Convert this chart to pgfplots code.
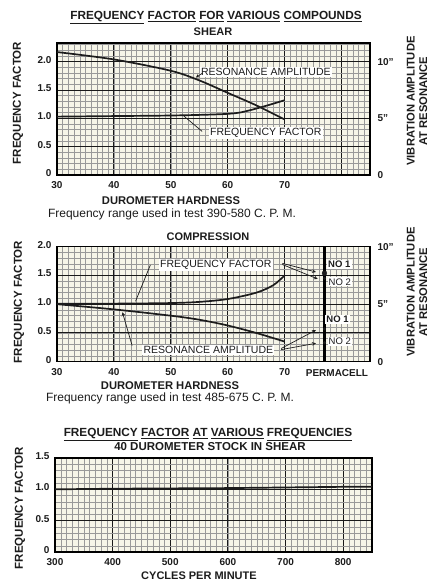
\documentclass[border=0pt]{standalone}
\usepackage{pgfplots}
\pgfplotsset{compat=1.18}
\usepackage{fontspec}
\setmainfont{Liberation Sans}
\definecolor{paper}{RGB}{246,245,232}
\definecolor{ink}{RGB}{28,28,28}

\pgfplotsset{
 chart/.style={
  scale only axis, anchor=south west,
  axis background/.style={fill=paper},
  grid=both,
  minor grid style={draw=black!40, line width=0.45pt},
  major grid style={draw=black!90, line width=1.0pt},
  axis line style={draw=black, line width=1.4pt},
  major tick length=0pt, minor tick length=0pt,
  tick label style={font=\bfseries\fontsize{10}{10}\selectfont, text=ink},
  xticklabel style={yshift=-3pt},
  yticklabel style={xshift=-2pt, yshift=2pt},
  /pgf/number format/assume math mode=true,
  clip=false,
 },
 curve/.style={draw=ink, line width=1.7pt, no markers},
}
\tikzset{
 lab/.style={font=\fontsize{10.5}{10.5}\selectfont, fill=white, inner sep=1.2pt, text=ink},
 rlab/.style={anchor=west, font=\bfseries\fontsize{10}{10}\selectfont, text=ink, xshift=4pt},
 lead/.style={draw=ink, line width=0.7pt},
}

\begin{document}
\begin{tikzpicture}[x=1pt,y=1pt]
\useasboundingbox (0,0) rectangle (438,584);

% ---------------- top chart: shear ----------------
\begin{axis}[chart, at={(57pt,409pt)}, width=313pt, height=132pt,
  xmin=30, xmax=85, ymin=0, ymax=2.33,
  xtick={30,40,50,60,70,80}, xticklabels={30,40,50,60,70,},
  ytick={0,0.5,1,1.5,2}, yticklabels={0,0.5,1.0,1.5,2.0},
  minor xtick={30,31,...,85}, minor ytick={0,0.1,...,2.35}]
\addplot[curve, smooth, tension=0.5] coordinates {(30,2.17)(40,2.04)(50,1.84)(55,1.67)(60,1.45)(65,1.23)(70,0.98)};
\addplot[curve, smooth, tension=0.5] coordinates {(30,1.03)(40,1.04)(50,1.05)(58,1.07)(62,1.1)(66,1.2)(70,1.32)};
\node[lab] at (axis cs:66.7,1.82) {RESONANCE AMPLITUDE};
\draw[lead,-stealth] (axis cs:55.6,1.80) -- (axis cs:54.4,1.72);
\node[lab] at (axis cs:66.7,0.74) {FREQUENCY FACTOR};
\draw[lead] (axis cs:52.3,1.04) -- (axis cs:55.5,0.77);
\node[rlab] at (axis cs:85,2) {10''};
\node[rlab] at (axis cs:85,1) {5''};
\node[rlab] at (axis cs:85,0) {0};
\end{axis}

% ---------------- middle chart: compression ----------------
\begin{axis}[chart, at={(57pt,222.3pt)}, width=313pt, height=115pt,
  xmin=30, xmax=85, ymin=0, ymax=2,
  xtick={30,40,50,60,70}, xticklabels={30,40,50,60,70},
  extra x ticks={77}, extra x tick labels={},
  extra x tick style={grid=major, major grid style={draw=black, line width=2.2pt}},
  ytick={0,0.5,1,1.5,2}, yticklabels={0,0.5,1.0,1.5,2.0},
  minor xtick={30,31,...,85}, minor ytick={0,0.1,...,2.05}]
\addplot[curve, smooth, tension=0.5] coordinates {(30,1.01)(40,1.01)(50,1.02)(55,1.04)(60,1.09)(65,1.2)(68,1.33)(70,1.5)};
\addplot[curve, smooth, tension=0.5] coordinates {(30,1.0)(40,0.91)(50,0.8)(55,0.73)(60,0.63)(65,0.5)(70,0.35)};
\addplot[only marks, mark=*, mark size=2.4pt, ink] coordinates {(77,1.54)};
\addplot[only marks, mark=*, mark size=1.3pt, ink] coordinates {(77,1.45)(77,0.57)(77,0.33)};
\node[lab] at (axis cs:57.9,1.68) {FREQUENCY FACTOR};
\draw[lead] (axis cs:46.4,1.68) -- (axis cs:43.8,1.05);
\draw[lead,-stealth] (axis cs:69.6,1.71) -- (axis cs:75.5,1.56);
\draw[lead,-stealth] (axis cs:69.6,1.69) -- (axis cs:75.8,1.44);
\node[lab] at (axis cs:56.6,0.20) {RESONANCE AMPLITUDE};
\draw[lead,-stealth] (axis cs:43.2,0.28) -- (axis cs:41.5,0.86);
\draw[lead,-stealth] (axis cs:69.4,0.23) -- (axis cs:75.5,0.55);
\draw[lead,-stealth] (axis cs:69.4,0.21) -- (axis cs:75.5,0.32);
\node[lab, font=\bfseries\fontsize{9.5}{9.5}\selectfont] at (axis cs:79.6,1.69) {NO 1};
\node[lab, font=\fontsize{9.5}{9.5}\selectfont] at (axis cs:79.7,1.39) {NO 2};
\node[lab, font=\bfseries\fontsize{9.5}{9.5}\selectfont] at (axis cs:79.3,0.73) {NO 1};
\node[lab, font=\fontsize{9.5}{9.5}\selectfont] at (axis cs:79.7,0.35) {NO 2};
\node[anchor=north, font=\bfseries\fontsize{10}{10}\selectfont, text=ink, yshift=-4pt] at (axis cs:79.2,0) {PERMACELL};
\node[rlab] at (axis cs:85,2) {10''};
\node[rlab] at (axis cs:85,1) {5''};
\node[rlab] at (axis cs:85,0) {0};
\end{axis}

% ---------------- bottom chart: frequencies ----------------
\begin{axis}[chart, at={(55pt,32pt)}, width=317pt, height=94pt,
  xmin=300, xmax=850, ymin=0, ymax=1.5,
  xtick={300,400,...,800},
  ytick={0,0.5,1,1.5}, yticklabels={0,0.5,1.0,1.5},
  minor xtick={300,310,...,850}, minor ytick={0,0.1,...,1.55}]
\addplot[curve] coordinates {(300,1.0)(400,1.01)(500,1.015)(600,1.02)(700,1.03)(800,1.04)(850,1.04)};
\end{axis}

% ---------------- titles and labels ----------------
\node[font=\bfseries\fontsize{11.8}{12}\selectfont, text=ink] at (216,566)
  {\underline{FREQUENCY} \underline{FACTOR} \underline{FOR} \underline{VARIOUS} \underline{COMPOUNDS}};
\node[font=\bfseries\fontsize{11}{11}\selectfont, text=ink] at (213,552) {SHEAR};
\node[rotate=90, font=\bfseries\fontsize{11.5}{11.5}\selectfont, text=ink] at (18,481) {FREQUENCY FACTOR};
\node[rotate=90, align=center, font=\bfseries\fontsize{11.2}{12.5}\selectfont, text=ink] at (417,483) {VIBRATION AMPLITUDE\\AT RESONANCE};
\node[font=\bfseries\fontsize{11.2}{11.2}\selectfont, text=ink] at (171,383.3) {DUROMETER HARDNESS};
\node[font=\fontsize{12}{12}\selectfont, text=ink] at (172,370) {Frequency range used in test 390-580 C. P. M.};

\node[font=\bfseries\fontsize{11}{11}\selectfont, text=ink] at (208,347.3) {COMPRESSION};
\node[rotate=90, font=\bfseries\fontsize{11.5}{11.5}\selectfont, text=ink] at (19,282) {FREQUENCY FACTOR};
\node[rotate=90, align=center, font=\bfseries\fontsize{11.2}{12.5}\selectfont, text=ink] at (417,292) {VIBRATION AMPLITUDE\\AT RESONANCE};
\node[font=\bfseries\fontsize{11.2}{11.2}\selectfont, text=ink] at (170,198.3) {DUROMETER HARDNESS};
\node[font=\fontsize{12}{12}\selectfont, text=ink] at (170,185.7) {Frequency range used in test 485-675 C. P. M.};

\node[font=\bfseries\fontsize{11.8}{12}\selectfont, text=ink] at (208,149)
  {\underline{FREQUENCY} \underline{FACTOR} \underline{AT} \underline{VARIOUS} \underline{FREQUENCIES}};
\node[font=\bfseries\fontsize{11.5}{11.5}\selectfont, text=ink] at (210,137.3) {40 DUROMETER STOCK IN SHEAR};
\node[rotate=90, font=\bfseries\fontsize{11.5}{11.5}\selectfont, text=ink] at (20,76) {FREQUENCY FACTOR};
\node[font=\bfseries\fontsize{11}{11}\selectfont, text=ink] at (199,8) {CYCLES PER MINUTE};
\end{tikzpicture}
\end{document}
